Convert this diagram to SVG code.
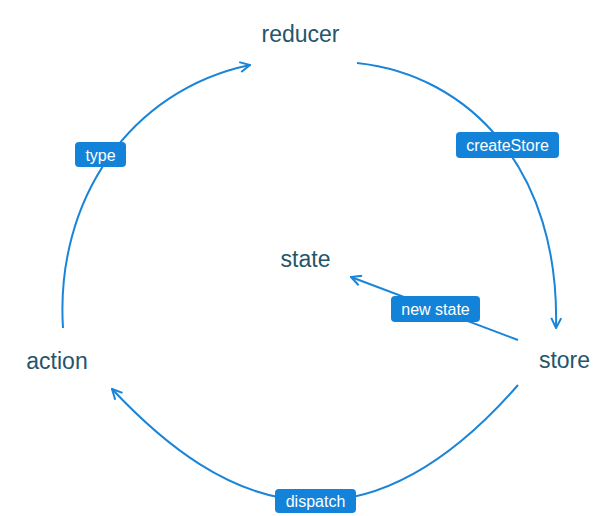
<svg xmlns="http://www.w3.org/2000/svg" width="614" height="516" viewBox="0 0 614 516">
<style>
.node text{font-family:"Liberation Sans",Arial,sans-serif;font-size:23px;fill:#24566b;text-anchor:middle}
.edge{fill:none;stroke:#1a85d8;stroke-width:2}
.lbl rect{fill:#1283d8}
.lbl text{font-family:"Liberation Sans",Arial,sans-serif;font-size:16px;fill:#fff;text-anchor:middle}
</style>
<defs>
<marker id="arr" viewBox="0 0 12 12" refX="11" refY="6" markerWidth="12" markerHeight="12" markerUnits="userSpaceOnUse" orient="auto">
<path d="M1,1 L11,6 L1,11" fill="none" stroke="#1a85d8" stroke-width="2"/>
</marker>
</defs>
<rect width="614" height="516" fill="#fff"/>
<g id="connectors">
<path class="edge" d="M63 328 C55 200 130 90 250 65" marker-end="url(#arr)"/>
<path class="edge" d="M357 63 C470 75 560 170 556 328" marker-end="url(#arr)"/>
<path class="edge" d="M518 340 L351 277" marker-end="url(#arr)"/>
<path class="edge" d="M518 385 C470 440 400 501 315 501 C230 501 160 440 112 389" marker-end="url(#arr)"/>
<g class="lbl"><rect x="75" y="142" width="51" height="25" rx="4"/><text x="100.5" y="160.5">type</text></g>
<g class="lbl"><rect x="456" y="132" width="103" height="26" rx="4"/><text x="507.5" y="150.5">createStore</text></g>
<g class="lbl"><rect x="391" y="296" width="89" height="26" rx="4"/><text x="435.5" y="314.5">new state</text></g>
<g class="lbl"><rect x="275" y="489" width="81" height="24" rx="4"/><text x="315.5" y="506.5">dispatch</text></g>
</g>
<g id="reducer" class="node"><text x="300.5" y="42">reducer</text></g>
<g id="state" class="node"><text x="305.5" y="267">state</text></g>
<g id="action" class="node"><text x="57" y="369">action</text></g>
<g id="store" class="node"><text x="564.5" y="368">store</text></g>
</svg>
